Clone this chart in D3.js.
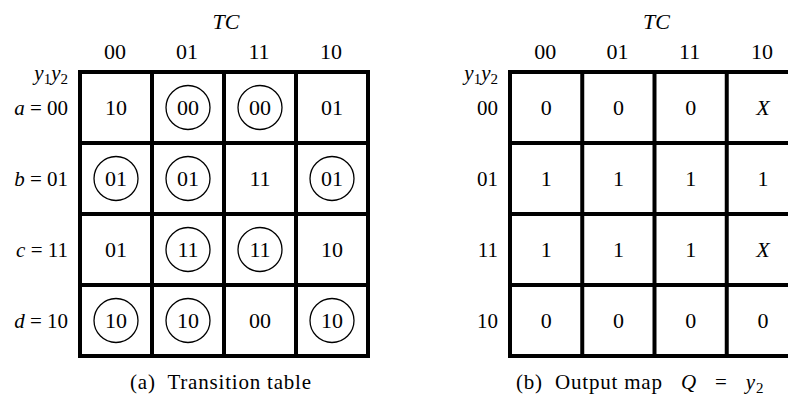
<!DOCTYPE html>
<html><head><meta charset="utf-8">
<script src="https://cdn.jsdelivr.net/npm/d3@7"></script>
<style>body{margin:0;background:#fff}svg{display:block}text{font-family:"Liberation Serif","DejaVu Serif",serif;fill:#000;white-space:pre}</style>
</head><body>
<svg id="c" width="788" height="403"></svg>
<script>
const cols = ["00","01","11","10"];
const rows = ["00","01","11","10"];
const stateNames = ["a","b","c","d"];
// transition table: next-state values; stable flags mark circled entries
const transitionValues = [
  ["10","00","00","01"],
  ["01","01","11","01"],
  ["01","11","11","10"],
  ["10","10","00","10"]
];
const stable = [
  [0,1,1,0],
  [1,1,0,1],
  [0,1,1,0],
  [1,1,0,1]
];
const outputValues = [
  ["0","0","0","X"],
  ["1","1","1","1"],
  ["1","1","1","X"],
  ["0","0","0","0"]
];

const svg = d3.select("#c");
const FS = 22;

function drawMap(x0, x1, values, circled, rowLabel, caption) {
  const x = d3.scaleBand().domain(cols).range([x0, x1]);
  const y = d3.scaleBand().domain(rows).range([72, 356]);
  const g = svg.append("g");
  const cx = (x0 + x1) / 2;
  // TC header
  g.append("text").attr("x", cx + 2).attr("y", 29).attr("text-anchor","middle")
    .attr("font-size", FS).attr("font-style","italic").text("TC");
  // column headers
  g.selectAll(".ch").data(cols).join("text")
    .attr("x", d => x(d) + x.bandwidth()/2 - 1).attr("y", 59)
    .attr("text-anchor","middle").attr("font-size", FS).text(d => d);
  // y1y2 label
  const yl = g.append("text").attr("x", x0 - 12).attr("y", 80).attr("text-anchor","end")
    .attr("font-size", 21).attr("font-style","italic");
  yl.append("tspan").text("y");
  yl.append("tspan").attr("font-size", 15).attr("dy", 4).attr("font-style","normal").text("1");
  yl.append("tspan").attr("dy", -4).text("y");
  yl.append("tspan").attr("font-size", 15).attr("dy", 4).attr("font-style","normal").text("2");
  // row labels
  rows.forEach((r, i) => {
    const t = g.append("text").attr("x", x0 - 12).attr("y", y(r) + y.bandwidth()/2 + 7)
      .attr("text-anchor","end").attr("font-size", 21);
    rowLabel(t, r, i);
  });
  // cells
  rows.forEach((r, i) => {
    cols.forEach((c, j) => {
      const px = x(c) + x.bandwidth()/2, py = y(r) + y.bandwidth()/2;
      if (circled && circled[i][j]) {
        g.append("circle").attr("cx", px).attr("cy", py).attr("r", 22)
          .attr("fill","none").attr("stroke","#000").attr("stroke-width",1.3);
      }
      const v = values[i][j];
      g.append("text").attr("x", px).attr("y", py + 7.5).attr("text-anchor","middle")
        .attr("font-size", FS).attr("font-style", v === "X" ? "italic" : "normal").text(v);
    });
  });
  // grid lines
  const xs = cols.map(c => x(c)).concat([x1]);
  const ys = rows.map(r => y(r)).concat([356]);
  g.selectAll(".vl").data(xs).join("line")
    .attr("x1", d => d).attr("x2", d => d).attr("y1", 72 - 2).attr("y2", 356 + 2)
    .attr("stroke","#000").attr("stroke-width",4);
  g.selectAll(".hl").data(ys).join("line")
    .attr("y1", d => d).attr("y2", d => d).attr("x1", x0 - 2).attr("x2", x1 + 2)
    .attr("stroke","#000").attr("stroke-width",4);
  // caption
  const cap = g.append("text").attr("y", 389).attr("font-size", 21).attr("letter-spacing", 0.8);
  caption(cap);
}

drawMap(80, 368, transitionValues, stable,
  (t, r, i) => {
    t.append("tspan").attr("font-style","italic").text(stateNames[i]);
    t.append("tspan").text(" = " + r);
  },
  cap => cap.attr("x", 130).text("(a)  Transition table"));

drawMap(510, 799, outputValues, null,
  (t, r) => t.text(r),
  cap => {
    cap.attr("x", 516);
    cap.append("tspan").text("(b)  Output map   ");
    cap.append("tspan").attr("font-style","italic").text("Q");
    cap.append("tspan").text("   =   ");
    cap.append("tspan").attr("font-style","italic").text("y");
    cap.append("tspan").attr("font-size", 15).attr("dy", 4).text("2");
  });
</script>
</body></html>
